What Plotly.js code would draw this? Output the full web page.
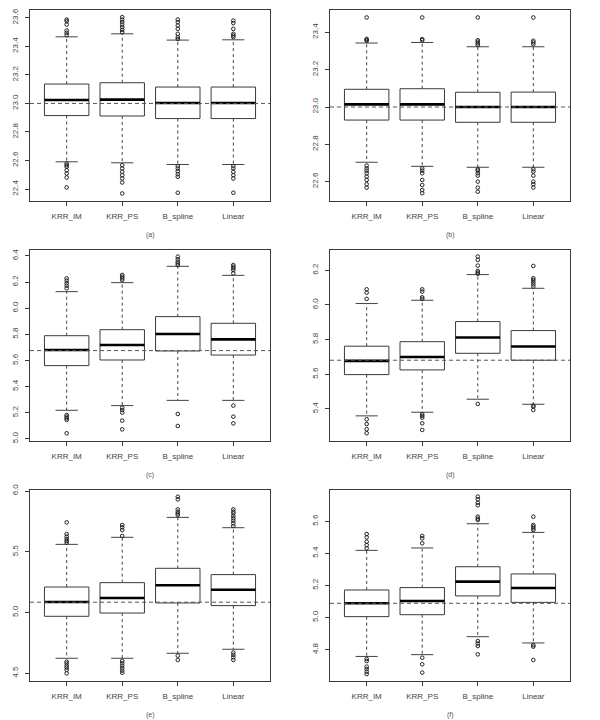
<!DOCTYPE html>
<html>
<head>
<meta charset="utf-8">
<script src="https://cdn.plot.ly/plotly-3.0.1.min.js"></script>
<style>html,body{margin:0;padding:0;background:#fff;}#chart{width:600px;height:720px;}</style>
</head>
<body>
<div id="chart"></div>
<script>
// ---- data ----
const methods = ["KRR_IM", "KRR_PS", "B_spline", "Linear"];
const panelLabels = ["(a)", "(b)", "(c)", "(d)", "(e)", "(f)"];
const refValue = [23.0, 23.0, 5.676, 5.681, 5.085, 5.089];

const q1  = [[22.915, 22.912, 22.894, 22.894],
             [22.930, 22.930, 22.918, 22.918],
             [5.561, 5.604, 5.673, 5.642],
             [5.598, 5.625, 5.721, 5.681],
             [4.969, 4.996, 5.079, 5.057],
             [5.006, 5.018, 5.135, 5.095]];
const med = [[23.024, 23.027, 23.003, 23.003],
             [23.014, 23.014, 23.000, 23.000],
             [5.681, 5.719, 5.803, 5.762],
             [5.677, 5.700, 5.812, 5.760],
             [5.087, 5.120, 5.224, 5.188],
             [5.089, 5.103, 5.224, 5.184]];
const q3  = [[23.136, 23.145, 23.115, 23.115],
             [23.095, 23.098, 23.079, 23.080],
             [5.790, 5.836, 5.936, 5.885],
             [5.762, 5.788, 5.904, 5.852],
             [5.210, 5.246, 5.364, 5.312],
             [5.172, 5.187, 5.317, 5.272]];
const whiskLo = [[22.591, 22.584, 22.572, 22.572],
                 [22.704, 22.682, 22.677, 22.677],
                 [5.219, 5.255, 5.295, 5.295],
                 [5.360, 5.381, 5.456, 5.427],
                 [4.624, 4.624, 4.665, 4.698],
                 [4.758, 4.769, 4.881, 4.842]];
const whiskHi = [[23.467, 23.488, 23.444, 23.446],
                 [23.343, 23.346, 23.323, 23.323],
                 [6.127, 6.196, 6.321, 6.252],
                 [6.008, 6.027, 6.175, 6.096],
                 [5.561, 5.619, 5.783, 5.698],
                 [5.419, 5.434, 5.585, 5.531]];
const outHi = [
  [[23.588, 23.577, 23.553, 23.511, 23.495, 23.479],
   [23.605, 23.588, 23.570, 23.553, 23.535, 23.516, 23.500],
   [23.588, 23.570, 23.546, 23.523, 23.488, 23.465, 23.452],
   [23.581, 23.563, 23.523, 23.488, 23.476, 23.465]],
  [[23.480, 23.365, 23.360, 23.355],
   [23.480, 23.364, 23.358],
   [23.480, 23.358, 23.350, 23.341, 23.332],
   [23.480, 23.355, 23.346, 23.336]],
  [[6.229, 6.211, 6.191, 6.173, 6.153],
   [6.255, 6.242, 6.229, 6.216],
   [6.395, 6.374, 6.357, 6.344, 6.331],
   [6.331, 6.318, 6.306, 6.293, 6.267]],
  [[6.090, 6.071, 6.035],
   [6.090, 6.077, 6.044, 6.035],
   [6.279, 6.260, 6.227, 6.196, 6.187, 6.180],
   [6.225, 6.154, 6.144, 6.131, 6.119, 6.106]],
  [[5.742, 5.646, 5.624, 5.605, 5.589, 5.575],
   [5.720, 5.701, 5.679, 5.630],
   [5.953, 5.931, 5.849, 5.830, 5.816, 5.803],
   [5.849, 5.830, 5.816, 5.794, 5.775, 5.756, 5.734, 5.712]],
  [[5.521, 5.500, 5.473, 5.452, 5.432],
   [5.509, 5.494, 5.463],
   [5.754, 5.737, 5.716, 5.700, 5.629, 5.617, 5.608],
   [5.629, 5.577, 5.567, 5.556, 5.546]]
];
const outLo = [
  [[22.579, 22.567, 22.556, 22.532, 22.509, 22.481, 22.411],
   [22.567, 22.544, 22.521, 22.497, 22.474, 22.446, 22.369],
   [22.560, 22.544, 22.525, 22.504, 22.486, 22.374],
   [22.560, 22.544, 22.521, 22.497, 22.474, 22.374]],
  [[22.686, 22.671, 22.659, 22.645, 22.627, 22.609, 22.586, 22.568],
   [22.671, 22.659, 22.645, 22.609, 22.582, 22.555, 22.538],
   [22.666, 22.659, 22.645, 22.632, 22.600, 22.568, 22.546],
   [22.666, 22.654, 22.632, 22.600, 22.586, 22.568]],
  [[5.183, 5.170, 5.158, 5.145, 5.043],
   [5.239, 5.221, 5.201, 5.140, 5.073],
   [5.191, 5.099],
   [5.255, 5.170, 5.119]],
  [[5.340, 5.313, 5.283, 5.260],
   [5.369, 5.360, 5.350, 5.317, 5.279],
   [5.429],
   [5.419, 5.413, 5.394]],
  [[4.596, 4.582, 4.563, 4.547, 4.528, 4.500],
   [4.602, 4.582, 4.563, 4.541, 4.522, 4.505],
   [4.645, 4.610],
   [4.671, 4.652, 4.632, 4.610]],
  [[4.742, 4.729, 4.694, 4.679, 4.663, 4.648],
   [4.750, 4.709, 4.657],
   [4.854, 4.839, 4.823, 4.771],
   [4.829, 4.819, 4.736]]
];
const yRanges = [[22.316, 23.655], [22.496, 23.520], [4.984, 6.446],
                 [5.215, 6.317], [4.437, 6.008], [4.605, 5.795]];
const yTicks = [[22.4, 22.6, 22.8, 23.0, 23.2, 23.4, 23.6],
                [22.6, 22.8, 23.0, 23.2, 23.4],
                [5.0, 5.2, 5.4, 5.6, 5.8, 6.0, 6.2, 6.4],
                [5.4, 5.6, 5.8, 6.0, 6.2],
                [4.5, 5.0, 5.5, 6.0],
                [4.8, 5.0, 5.2, 5.4, 5.6]];

// ---- build ----
const halfBox = 0.4, halfCap = 0.2;
const xDomains = [[0.05, 0.45], [0.55, 0.95]];
const yDomains = [[0.7208, 0.9861], [0.3875, 0.6528], [0.0542, 0.3194]];
const lineCol = "#3a3a3a";
const font = "Liberation Sans, Arial, sans-serif";
const traces = [];
const layout = {
  width: 600, height: 720,
  margin: {l: 0, r: 0, t: 0, b: 0},
  paper_bgcolor: "#fff", plot_bgcolor: "#fff",
  showlegend: false,
  font: {family: font, size: 8, color: "#444"},
  shapes: [], annotations: []
};

for (let p = 0; p < 6; p++) {
  const sfx = p === 0 ? "" : String(p + 1);
  const xa = "x" + sfx, ya = "y" + sfx;
  const col = p % 2, row = Math.floor(p / 2);
  layout["xaxis" + sfx] = {
    domain: xDomains[col], anchor: ya, range: [0.34, 4.66],
    tickmode: "array", tickvals: [1, 2, 3, 4], ticktext: methods,
    ticks: "outside", ticklen: 4, tickcolor: lineCol, ticklabelstandoff: 3,
    showline: true, linecolor: lineCol, linewidth: 1, mirror: true,
    showgrid: false, zeroline: false, fixedrange: true,
    tickfont: {family: font, size: 8, color: "#444"}
  };
  layout["yaxis" + sfx] = {
    domain: yDomains[row], anchor: xa, range: yRanges[p],
    tickmode: "array", tickvals: yTicks[p], ticktext: yTicks[p].map(v => v.toFixed(1)),
    ticks: "outside", ticklen: 4, tickcolor: lineCol, tickangle: -90, ticklabelstandoff: 4,
    showline: true, linecolor: lineCol, linewidth: 1, mirror: true,
    showgrid: false, zeroline: false, fixedrange: true,
    tickfont: {family: font, size: 8, color: "#444"}
  };

  const wx = [], wy = [];
  const cx = [], cy = [];
  const bx = [], by = [];
  const mx = [], my = [];
  const ox = [], oy = [];
  for (let m = 0; m < 4; m++) {
    const x = m + 1;
    wx.push(x, x, null, x, x, null);
    wy.push(q3[p][m], whiskHi[p][m], null, q1[p][m], whiskLo[p][m], null);
    cx.push(x - halfCap, x + halfCap, null, x - halfCap, x + halfCap, null);
    cy.push(whiskHi[p][m], whiskHi[p][m], null, whiskLo[p][m], whiskLo[p][m], null);
    bx.push(x - halfBox, x + halfBox, x + halfBox, x - halfBox, x - halfBox, null);
    by.push(q1[p][m], q1[p][m], q3[p][m], q3[p][m], q1[p][m], null);
    mx.push(x - halfBox, x + halfBox, null);
    my.push(med[p][m], med[p][m], null);
    outHi[p][m].forEach(v => { ox.push(x); oy.push(v); });
    outLo[p][m].forEach(v => { ox.push(x); oy.push(v); });
  }
  traces.push({type: "scatter", mode: "lines", x: wx, y: wy, xaxis: xa, yaxis: ya,
    line: {color: "#444", width: 1, dash: "3px,3px"}, hoverinfo: "skip"});
  traces.push({type: "scatter", mode: "lines", x: cx, y: cy, xaxis: xa, yaxis: ya,
    line: {color: "#444", width: 1}, hoverinfo: "skip"});
  traces.push({type: "scatter", mode: "lines", x: bx, y: by, xaxis: xa, yaxis: ya,
    fill: "toself", fillcolor: "#fff", line: {color: lineCol, width: 1}, hoverinfo: "skip"});
  traces.push({type: "scatter", mode: "lines", x: mx, y: my, xaxis: xa, yaxis: ya,
    line: {color: "#000", width: 2.6}, hoverinfo: "skip"});
  traces.push({type: "scatter", mode: "markers", x: ox, y: oy, xaxis: xa, yaxis: ya,
    marker: {symbol: "circle-open", size: 3.6, color: "#222", line: {width: 1, color: "#222"}},
    hoverinfo: "skip"});

  layout.shapes.push({type: "line", xref: xa + " domain", yref: ya,
    x0: 0, x1: 1, y0: refValue[p], y1: refValue[p],
    line: {color: "#555", width: 1, dash: "4px,3px"}});

  layout.annotations.push({text: panelLabels[p], xref: "paper", yref: "paper",
    x: (xDomains[col][0] + xDomains[col][1]) / 2, y: yDomains[row][0] - 0.0472,
    xanchor: "center", yanchor: "middle", showarrow: false,
    font: {family: font, size: 7, color: "#555"}});
}

Plotly.newPlot("chart", traces, layout, {staticPlot: true, displayModeBar: false});
</script>
</body>
</html>
